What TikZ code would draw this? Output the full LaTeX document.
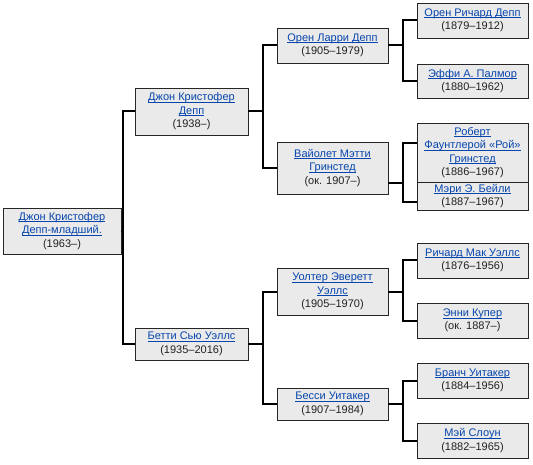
\documentclass[tikz,border=0pt]{standalone}
\usepackage{fontspec}
\setmainfont{Liberation Sans}
\definecolor{wikilink}{RGB}{6,69,173}
\definecolor{boxfill}{RGB}{234,234,234}
\definecolor{datetext}{RGB}{34,34,34}
\newcommand{\who}[1]{\textcolor{wikilink}{\setbox0\hbox{#1}\rlap{\rule[-1.6pt]{\wd0}{0.55pt}}\box0}}

\begin{document}
\begin{tikzpicture}[x=1pt,y=-1pt,
        person/.style={draw=black!85,fill=boxfill,line width=0.9pt,align=center,inner sep=0pt,
            font=\fontsize{11}{13.5}\selectfont,text=datetext},
        link/.style={black,line width=2pt}]
        \useasboundingbox (0,0) rectangle (533,465);
        \node[person,minimum width=118,minimum height=46] (root) at (62,231) {\who{Джон Кристофер}\\\who{Депп-младший.}\\(1963–)};
        \node[person,minimum width=113,minimum height=47] (j) at (191.5,111.5) {\who{Джон Кристофер}\\\who{Депп}\\(1938–)};
        \node[person,minimum width=113,minimum height=32] (b) at (191.5,344) {\who{Бетти Сью Уэллс}\\(1935–2016)};
        \node[person,minimum width=111,minimum height=35] (ol) at (332.5,45.5) {\who{Орен Ларри Депп}\\(1905–1979)};
        \node[person,minimum width=111,minimum height=52] (v) at (332.5,168) {\who{Вайолет Мэтти}\\\who{Гринстед}\\(ок. 1907–)};
        \node[person,minimum width=111,minimum height=47] (u) at (332.5,291.5) {\who{Уолтер Эверетт}\\\who{Уэллс}\\(1905–1970)};
        \node[person,minimum width=111,minimum height=32] (bu) at (332.5,404) {\who{Бесси Уитакер}\\(1907–1984)};
        \node[person,minimum width=111,minimum height=35] (or) at (472.5,20.5) {\who{Орен Ричард Депп}\\(1879–1912)};
        \node[person,minimum width=111,minimum height=34] (e) at (472.5,81) {\who{Эффи А. Палмор}\\(1880–1962)};
        \node[person,minimum width=111,minimum height=59] (r) at (472.5,152.5) {\who{Роберт}\\\who{Фаунтлерой «Рой»}\\\who{Гринстед}\\(1886–1967)};
        \node[person,minimum width=111,minimum height=28] (m) at (472.5,196) {\who{Мэри Э. Бейли}\\(1887–1967)};
        \node[person,minimum width=111,minimum height=35] (ri) at (472.5,260.5) {\who{Ричард Мак Уэллс}\\(1876–1956)};
        \node[person,minimum width=111,minimum height=35] (en) at (472.5,320.5) {\who{Энни Купер}\\(ок. 1887–)};
        \node[person,minimum width=111,minimum height=35] (br) at (472.5,380.5) {\who{Бранч Уитакер}\\(1884–1956)};
        \node[person,minimum width=111,minimum height=35] (my) at (472.5,440.5) {\who{Мэй Слоун}\\(1882–1965)};
        \draw[link] (j.west) -- ++(-12,0) coordinate (jb) |- (b.west);
        \draw[link] (root.east) -- (root.east -| jb);
        \draw[link] (ol.west) -- ++(-14,0) coordinate (olv) |- (v.west);
        \draw[link] (j.east) -- (j.east -| olv);
        \draw[link] (u.west) -- ++(-14,0) coordinate (ubu) |- (bu.west);
        \draw[link] (b.east) -- (b.east -| ubu);
        \draw[link] (or.west) -- ++(-14,0) coordinate (ore) |- (e.west);
        \draw[link] (ol.east) -- (ol.east -| ore);
        \draw[link] ([yshift=9.5pt]r.west) -- ++(-14,0) coordinate (rm) |- ([yshift=-6pt]m.west);
        \draw[link] ([yshift=-15pt]v.east) -- ([yshift=-15pt]v.east -| rm);
        \draw[link] (ri.west) -- ++(-14,0) coordinate (rien) |- (en.west);
        \draw[link] (u.east) -- (u.east -| rien);
        \draw[link] (br.west) -- ++(-14,0) coordinate (brmy) |- (my.west);
        \draw[link] (bu.east) -- (bu.east -| brmy);
    \end{tikzpicture}
\end{document}
